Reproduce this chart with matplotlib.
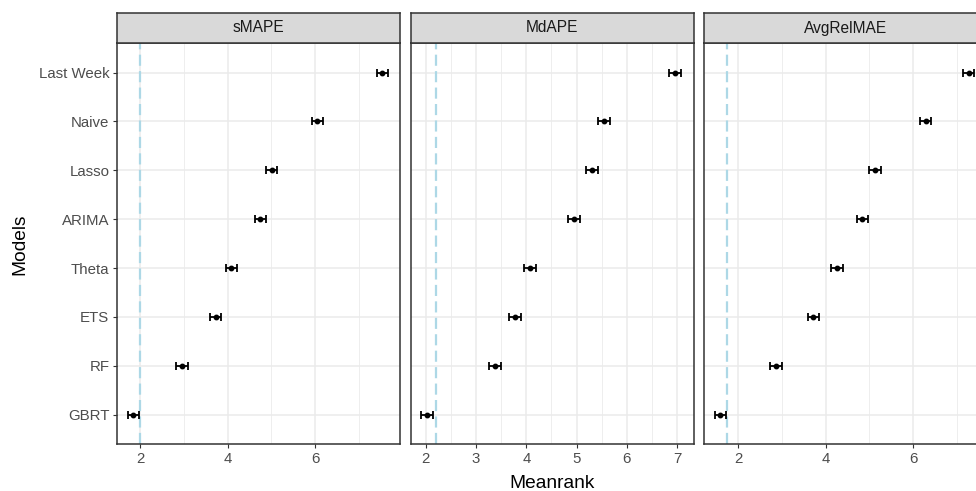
import matplotlib
matplotlib.use("Agg")
import matplotlib.pyplot as plt
import numpy as np

# ---- data ----
models = ["GBRT", "RF", "ETS", "Theta", "ARIMA", "Lasso", "Naive", "Last Week"]
metrics = ["sMAPE", "MdAPE", "AvgRelMAE"]
smape = [1.85, 2.96, 3.73, 4.09, 4.75, 5.01, 6.05, 7.54]
mdape = [2.03, 3.37, 3.78, 4.07, 4.95, 5.31, 5.54, 6.96]
avgrelmae = [1.59, 2.86, 3.72, 4.26, 4.84, 5.13, 6.29, 7.27]
half_width = [0.13, 0.12, 0.13]
ref_line = [2.0, 2.2, 1.74]
xlims = [(1.474, 7.94), (1.70, 7.33), (1.215, 7.69)]
major_ticks = [[2, 4, 6], [2, 3, 4, 5, 6, 7], [2, 4, 6]]
minor_ticks = [[3, 5, 7], [2.5, 3.5, 4.5, 5.5, 6.5], [3, 5, 7]]
values = [smape, mdape, avgrelmae]

W, H = 976, 491
fig = plt.figure(figsize=(W / 100, H / 100), dpi=100)
plt.rcParams["font.family"] = ["Liberation Sans", "DejaVu Sans"]

grey20 = "#333333"
grey30 = "#4D4D4D"
grid_c = "#EBEBEB"

panel_left = [117, 410.7, 704]
panel_w = 283
p_top, p_bot = 43.3, 444
s_top = 12.7

ypos = np.arange(len(models))
for i, m in enumerate(metrics):
    x0 = panel_left[i]
    ax = fig.add_axes([x0 / W, 1 - p_bot / H, panel_w / W, (p_bot - p_top) / H])
    ax.set_xlim(*xlims[i])
    ax.set_ylim(-0.6, len(models) - 0.4)
    # grid
    for t in minor_ticks[i]:
        ax.axvline(t, color=grid_c, lw=0.6, zorder=0)
    for t in major_ticks[i]:
        ax.axvline(t, color=grid_c, lw=1.1, zorder=0)
    for y in ypos:
        ax.axhline(y, color=grid_c, lw=1.1, zorder=0)
    # reference line
    ln = ax.axvline(ref_line[i], color="#ADD8E6", lw=1.6, zorder=1)
    ln.set_dashes((5, 2.4))
    # error bars
    ax.errorbar(values[i], ypos, xerr=half_width[i], fmt="o", color="black",
                ms=3.2, elinewidth=1.3, capsize=2.6, capthick=1.3, zorder=3)
    ax.set_xticks(major_ticks[i])
    ax.set_xticklabels([str(t) for t in major_ticks[i]])
    ax.tick_params(axis="x", colors=grey20, labelcolor=grey30, labelsize=10.8,
                   length=3, width=0.8, pad=2.8)
    ax.set_yticks(ypos)
    if i == 0:
        ax.set_yticklabels(models)
        ax.tick_params(axis="y", colors=grey20, labelcolor=grey30, labelsize=10.8,
                       length=3, width=0.8, pad=2.5)
    else:
        ax.set_yticklabels([])
        ax.tick_params(axis="y", length=0)
    for s in ax.spines.values():
        s.set_color(grey20)
        s.set_linewidth(1.1)
    # strip
    sax = fig.add_axes([x0 / W, 1 - p_top / H, panel_w / W, (p_top - s_top) / H])
    sax.set_facecolor("#D9D9D9")
    sax.set_xticks([])
    sax.set_yticks([])
    for s in sax.spines.values():
        s.set_color(grey20)
        s.set_linewidth(1.1)
    sax.text(0.5, 0.5, m, ha="center", va="center", fontsize=11.2,
             color="#1A1A1A", transform=sax.transAxes)

fig.text(552 / W, 1 - 488 / H, "Meanrank", ha="center", va="baseline",
         fontsize=13.8, color="black")
fig.text(20 / W, 1 - 244 / H, "Models", ha="center", va="center",
         rotation=90, fontsize=13.8, color="black")

fig.savefig("out.png", dpi=100)
